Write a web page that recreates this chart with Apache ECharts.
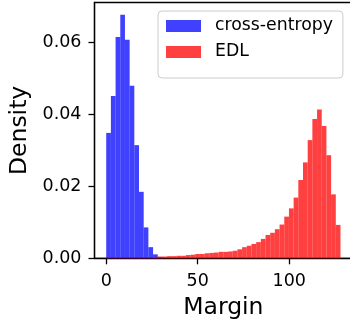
<!DOCTYPE html>
<html>
<head>
<meta charset="utf-8">
<script src="https://cdn.jsdelivr.net/npm/echarts@6/dist/echarts.min.js"></script>
<style>
html,body{margin:0;padding:0;background:#fff;}
#chart{width:350px;height:323px;}
</style>
</head>
<body>
<div id="chart"></div>
<script>
// Histogram bins: 50 bins spanning 0..128
const binStart = 0;
const binWidth = 2.56;
const seriesNames = ['cross-entropy', 'EDL'];
const crossEntropyDensity = [
  0.0349, 0.0452, 0.0616, 0.0678, 0.0608, 0.0480, 0.0315, 0.0185, 0.0086, 0.0031,
  0.0011, 0.0003, 0, 0, 0, 0, 0, 0, 0, 0,
  0, 0, 0, 0, 0, 0, 0, 0, 0, 0,
  0, 0, 0, 0, 0, 0, 0, 0, 0, 0,
  0, 0, 0, 0, 0, 0, 0, 0, 0, 0
];
const edlDensity = [
  0.0003, 0.0003, 0.0003, 0.0003, 0.0003, 0.0003, 0.0003, 0.0003, 0.0003, 0.0003,
  0.0004, 0.0005, 0.0005, 0.0006, 0.0006, 0.0007, 0.0007, 0.0009, 0.0010, 0.0012,
  0.0012, 0.0014, 0.0015, 0.0016, 0.0018, 0.0018, 0.0019, 0.0021, 0.0025, 0.0031,
  0.0035, 0.0040, 0.0045, 0.0054, 0.0065, 0.0071, 0.0081, 0.0094, 0.0116, 0.0139,
  0.0169, 0.0218, 0.0267, 0.0329, 0.0388, 0.0414, 0.0368, 0.0287, 0.0178, 0.0093
];
const xTicks = [0, 50, 100];
const yTicks = [0, 0.02, 0.04, 0.06];

function toBins(values) {
  return values.map((v, i) => [binStart + i * binWidth, binStart + (i + 1) * binWidth, v]);
}
function renderBar(params, api) {
  const p0 = api.coord([api.value(0), api.value(2)]);
  const p1 = api.coord([api.value(1), 0]);
  return {
    type: 'rect',
    shape: { x: p0[0], y: p0[1], width: p1[0] - p0[0], height: p1[1] - p0[1] },
    style: { fill: api.visual('color') }
  };
}
const FONT = 'DejaVu Sans';
const chart = echarts.init(document.getElementById('chart'), null, { renderer: 'canvas' });
chart.setOption({
  animation: false,
  backgroundColor: '#ffffff',
  grid: { left: 94.5, top: 2.5, right: -2.2, bottom: 64.7, containLabel: false, outerBoundsMode: 'none',
    show: true, borderColor: '#000', borderWidth: 1.3, backgroundColor: 'transparent' },
  legend: {
    orient: 'vertical',
    left: 158, top: 11,
    data: seriesNames,
    icon: 'rect',
    itemWidth: 35, itemHeight: 12,
    itemGap: 8,
    padding: [6, 10, 17, 8],
    backgroundColor: 'rgba(255,255,255,0.8)',
    borderColor: '#cccccc', borderWidth: 1, borderRadius: 4,
    textStyle: { fontFamily: FONT, fontSize: 17.3, color: '#000', padding: [0, 0, 0, 9], lineHeight: 18 }
  },
  xAxis: {
    type: 'value', min: -6.4, max: 134.4,
    name: 'Margin', nameLocation: 'middle', nameGap: 38,
    nameTextStyle: { fontFamily: FONT, fontSize: 23.5, color: '#000' },
    axisLine: { show: true, onZero: false, lineStyle: { color: '#000', width: 1.3 } },
    axisTick: { show: true, length: 6, customValues: xTicks, lineStyle: { color: '#000', width: 1.3 } },
    axisLabel: { customValues: xTicks, fontFamily: FONT, fontSize: 17.5, color: '#000', margin: 14 },
    splitLine: { show: false }
  },
  yAxis: {
    type: 'value', min: 0, max: 0.0712,
    name: 'Density', nameLocation: 'middle', nameGap: 62, nameRotate: 90,
    nameTextStyle: { fontFamily: FONT, fontSize: 23.5, color: '#000' },
    axisLine: { show: true, onZero: false, lineStyle: { color: '#000', width: 1.3 } },
    axisTick: { show: true, length: 6, customValues: yTicks, lineStyle: { color: '#000', width: 1.3 } },
    axisLabel: { customValues: yTicks, fontFamily: FONT, fontSize: 17.5, color: '#000', margin: 13,
      formatter: v => v.toFixed(2) },
    splitLine: { show: false }
  },
  series: [
    { name: seriesNames[0], type: 'custom', renderItem: renderBar, data: toBins(crossEntropyDensity),
      itemStyle: { color: 'rgba(0,0,255,0.75)' }, encode: { x: [0, 1], y: 2 } },
    { name: seriesNames[1], type: 'custom', renderItem: renderBar, data: toBins(edlDensity),
      itemStyle: { color: 'rgba(255,0,0,0.75)' }, encode: { x: [0, 1], y: 2 } }
  ]
});
</script>
</body>
</html>
